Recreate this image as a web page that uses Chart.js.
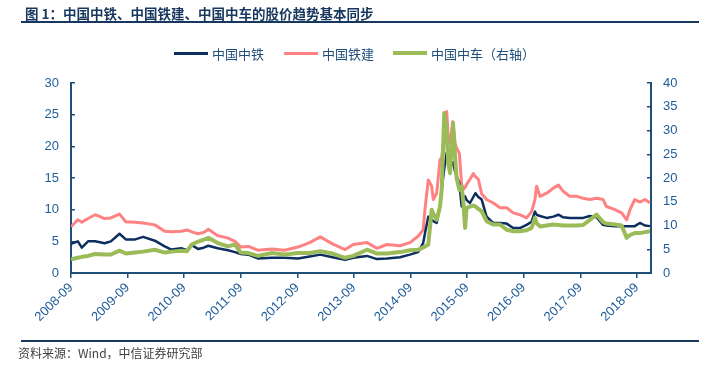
<!DOCTYPE html>
<html>
<head>
<meta charset="utf-8">
<script src="https://cdn.jsdelivr.net/npm/chart.js@4/dist/chart.umd.min.js"></script>
<style>
  body { margin: 0; background: #fff; width: 721px; height: 377px; position: relative; overflow: hidden; font-family: "Liberation Sans", Arial, sans-serif; }
  #title { position: absolute; left: 25px; top: 3px; font: bold 13.5px "Noto Sans CJK SC", sans-serif; color: #17375e; white-space: nowrap; }
  .rule { position: absolute; left: 21px; width: 678px; background: #17375e; }
  #legend { position: absolute; top: 44px; left: 0; font: 13px "Noto Sans CJK SC", sans-serif; color: #1f4e79; }
  .item { position: absolute; white-space: nowrap; }
  .swatch { position: absolute; width: 34px; }
  #source { position: absolute; left: 18px; top: 344px; font: 12px "Noto Sans CJK SC", sans-serif; color: #404040; white-space: nowrap; }
  #chart { position: absolute; left: 0; top: 0; }
</style>
</head>
<body>
<canvas id="chart" width="721" height="377"></canvas>
<div id="title">图 1：中国中铁、中国铁建、中国中车的股价趋势基本同步</div>
<div class="rule" style="top:21px;height:2px;"></div>
<div id="legend"></div>
<div class="rule" style="top:340px;height:1.5px;"></div>
<div id="source">资料来源：Wind，中信证券研究部</div>
<script>
// sample dates (irregular)
const dates = [
  '2008-09-01','2008-10-15','2008-11-10','2008-12-20','2009-02-05','2009-04-05','2009-05-15','2009-07-10',
  '2009-08-20','2009-10-20','2009-12-10','2010-02-25','2010-04-28','2010-06-10','2010-08-12','2010-09-20',
  '2010-10-20','2010-11-30','2011-01-05','2011-02-05','2011-04-05','2011-06-10','2011-07-25','2011-09-01',
  '2011-10-20','2011-12-20','2012-03-20','2012-06-10','2012-09-05','2012-11-20','2013-01-28','2013-04-15',
  '2013-07-05','2013-08-28','2013-11-25','2014-01-28','2014-04-01','2014-06-25','2014-08-28','2014-10-20',
  '2014-11-22','2014-12-05','2014-12-25','2015-01-16','2015-01-27','2015-02-18','2015-03-09','2015-03-20',
  '2015-04-06','2015-04-22','2015-05-02','2015-05-13','2015-06-01','2015-06-15','2015-06-25','2015-07-12',
  '2015-07-27','2015-08-07','2015-08-19','2015-08-29','2015-09-20','2015-10-11','2015-10-25','2015-11-13',
  '2015-12-04','2016-01-05','2016-02-18','2016-04-01','2016-05-13','2016-06-25','2016-08-07','2016-09-20',
  '2016-10-22','2016-11-13','2016-11-24','2016-12-15','2017-01-28','2017-03-10','2017-04-12','2017-05-13',
  '2017-06-25','2017-08-09','2017-09-20','2017-11-02','2017-12-15','2018-01-27','2018-02-18','2018-04-12',
  '2018-05-25','2018-06-27','2018-07-18','2018-08-18','2018-09-21','2018-10-23','2018-11-25'
];
// 中国中铁 (left axis)
const crec = [
  4.6,5.0,4.0,5.0,5.0,4.7,5.0,6.2, 5.3,5.3,5.7,5.1,4.2,3.7,3.9,3.6,
  4.4,3.8,4.0,4.3,3.9,3.6,3.3,3.0, 2.9,2.3,2.4,2.4,2.3,2.6,2.9,2.5,
  2.1,2.4,2.7,2.2,2.3,2.5,2.9,3.3, 4.7,6.5,8.9,8.4,8.2,7.9,10.5,13.2,
  16.5,19.0,19.5,16.8,17.5,16.0,15.3,14.2, 10.5,11.5,12.1,11.5,11.05,12.0,12.6,12.0,
  11.6,8.9,7.9,7.9,7.8,7.1,7.1,7.6, 8.1,9.7,9.2,9.0,8.7,8.9,9.2,8.8,
  8.7,8.7,8.7,9.0,8.8,7.6,7.5,7.4, 7.4,7.4,7.4,7.4,7.9,7.5,7.4
];
// 中国铁建 (left axis)
const crcc = [
  7.3,8.4,8.0,8.6,9.2,8.6,8.7,9.3, 8.1,8.0,7.9,7.6,6.6,6.5,6.6,6.8,
  6.5,6.2,6.4,6.9,5.9,5.5,5.0,4.1, 4.2,3.6,3.8,3.6,4.1,4.8,5.7,4.6,
  3.7,4.5,4.8,3.9,4.5,4.3,4.8,5.8, 6.8,10.5,14.7,13.7,11.6,12.6,17.9,18.2,
  21.6,25.5,21.0,20.5,23.9,20.5,19.7,18.9, 14.0,13.2,13.5,14.0,14.8,15.7,15.2,14.8,
  12.5,11.6,11.05,10.3,10.3,9.5,9.2,8.7, 9.7,11.6,13.7,12.1,12.6,13.4,13.9,12.9,
  12.1,12.1,11.8,11.6,11.8,11.6,10.5,10.0, 9.5,8.4,10.0,11.6,11.2,11.6,11.1
];
// 中国中车 (right axis)
const crrc = [
  2.9,3.2,3.4,3.6,4.0,3.9,3.9,4.7, 4.1,4.3,4.5,4.9,4.3,4.5,4.7,4.6,
  6.0,6.6,7.0,7.4,6.3,5.6,6.0,4.3, 4.2,3.6,4.2,3.9,4.2,4.2,4.6,4.1,
  3.2,3.6,4.9,4.1,4.1,4.4,4.8,4.9, 5.4,5.6,6.0,13.3,12.5,11.2,14.0,17.5,
  33.7,29.5,23.0,21.0,31.6,24.5,20.0,17.5, 18.2,15.0,9.5,13.7,14.0,14.2,14.0,13.5,
  13.0,10.9,10.2,10.2,9.1,8.8,8.8,9.0, 9.5,11.6,10.5,9.8,10.0,10.2,10.1,10.0,
  10.0,10.0,10.1,11.2,12.3,10.7,10.4,10.2, 10.0,7.4,8.0,8.4,8.4,8.6,8.8
];
const tickLabels = ['2008-09','2009-09','2010-09','2011-09','2012-09','2013-09','2014-09','2015-09','2016-09','2017-09','2018-09'];

const AXIS = '#1f4e79';
const TXT = '#1f5c99';
const NAVY = '#0c2f5f';
const RED = '#ff8282';
const GREEN = '#9bbb59';

// months since 2008-09
function monthOffset(d) {
  const [y, m, day] = d.split('-').map(Number);
  return (y - 2008) * 12 + (m - 9) + (day - 1) / 31;
}
const xs = dates.map(monthOffset);
const pts = arr => arr.map((v, i) => ({ x: xs[i], y: v }));

// legend
const legendItems = [
  { text: '中国中铁', color: NAVY, w: 3, left: 174 },
  { text: '中国铁建', color: RED, w: 3, left: 284 },
  { text: '中国中车（右轴）', color: GREEN, w: 4, left: 393 }
];
const legend = document.getElementById('legend');
legendItems.forEach(it => {
  const el = document.createElement('div');
  el.className = 'item';
  el.style.left = it.left + 'px';
  el.innerHTML = `<span class="swatch" style="top:${9 - it.w / 2}px;height:${it.w}px;background:${it.color};"></span><span style="margin-left:38px;">${it.text}</span>`;
  legend.appendChild(el);
});

new Chart(document.getElementById('chart').getContext('2d'), {
  type: 'line',
  data: {
    datasets: [
      { label: '中国中车（右轴）', data: pts(crrc), yAxisID: 'y1', borderColor: GREEN, borderWidth: 4 },
      { label: '中国中铁', data: pts(crec), yAxisID: 'y', borderColor: NAVY, borderWidth: 2.5 },
      { label: '中国铁建', data: pts(crcc), yAxisID: 'y', borderColor: RED, borderWidth: 3 }
    ]
  },
  options: {
    responsive: false,
    animation: false,
    devicePixelRatio: 1,
    layout: { padding: { top: 83, left: 0, right: 0, bottom: 0 } },
    elements: { point: { radius: 0 }, line: { tension: 0, borderJoinStyle: 'round' } },
    plugins: { legend: { display: false }, tooltip: { enabled: false } },
    scales: {
      x: {
        type: 'linear',
        min: 0,
        max: 123,
        afterBuildTicks: s => { s.ticks = tickLabels.map((_, i) => ({ value: i * 12 })); },
        afterFit: s => { s.height = 104; },
        grid: { drawOnChartArea: false, tickLength: 5, color: AXIS, lineWidth: 1.5 },
        border: { color: AXIS, width: 2 },
        ticks: {
          minRotation: 45, maxRotation: 45, autoSkip: false, padding: 2,
          color: TXT, font: { family: 'Liberation Sans', size: 13 },
          callback: v => tickLabels[Math.round(v / 12)]
        }
      },
      y: {
        position: 'left',
        min: 0, max: 30,
        afterFit: s => { s.width = 71; },
        grid: { drawOnChartArea: false, tickLength: -4, color: AXIS, lineWidth: 1.5 },
        border: { color: AXIS, width: 2 },
        ticks: { stepSize: 5, padding: 16, color: TXT, font: { family: 'Liberation Sans', size: 13 } }
      },
      y1: {
        position: 'right',
        min: 0, max: 40,
        afterFit: s => { s.width = 70; },
        grid: { drawOnChartArea: false, tickLength: -4, color: AXIS, lineWidth: 1.5 },
        border: { color: AXIS, width: 2 },
        ticks: { stepSize: 5, padding: 16, color: TXT, font: { family: 'Liberation Sans', size: 13 } }
      }
    }
  }
});
</script>
</body>
</html>
